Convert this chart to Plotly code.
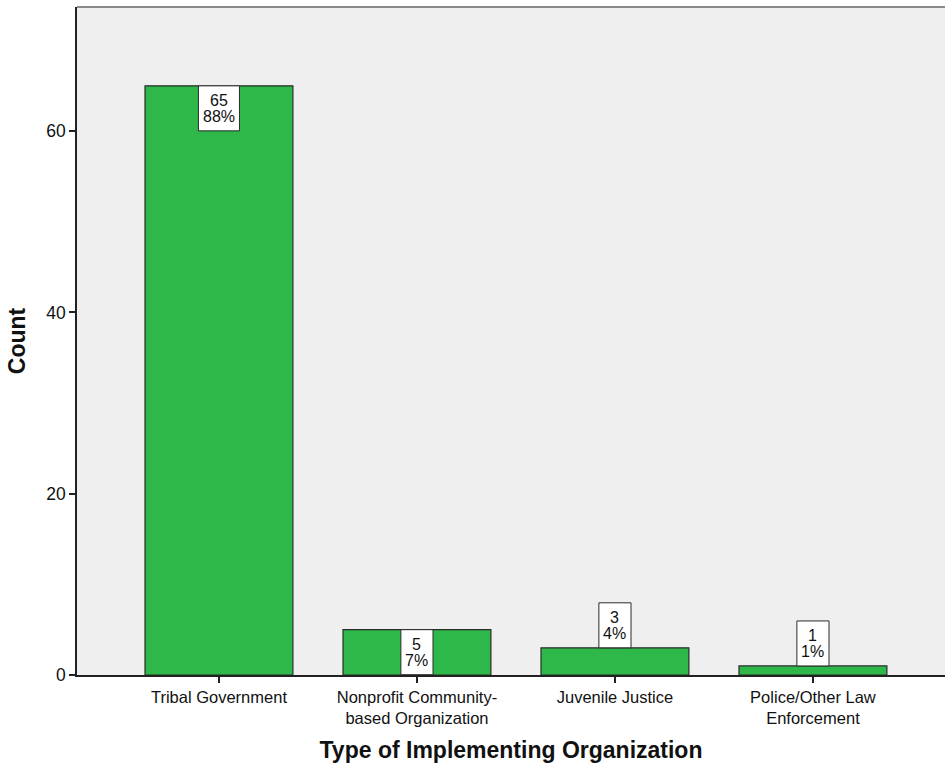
import plotly.graph_objects as go

categories = [
    "Tribal Government",
    "Nonprofit Community-<br>based Organization",
    "Juvenile Justice",
    "Police/Other Law<br>Enforcement",
]
counts = [65, 5, 3, 1]

total = sum(counts)
percents = [round(100 * c / total) for c in counts]

y_max = 73.7
plot_height_px = 668
box_h = 45           # label box height in px
label_units = box_h * y_max / plot_height_px
label_font = 16

fig = go.Figure()
fig.add_trace(go.Bar(
    x=list(range(len(categories))),
    y=counts,
    width=0.747,
    marker=dict(color="#2EB84A", line=dict(color="#2b2b2b", width=1.2)),
    hoverinfo="skip",
))


def text_width(s, size):
    # approximate Arial advance widths
    w = 0.0
    for ch in s:
        w += 0.889 if ch == "%" else 0.556
    return w * size


# count / percent boxes: inside the bar top when it fits, otherwise sitting on it
for i, (c, p) in enumerate(zip(counts, percents)):
    inside = c >= label_units
    center = -box_h / 2 if inside else box_h / 2
    l1, l2 = str(c), f"{p}%"
    box_w = max(text_width(l1, label_font), text_width(l2, label_font)) + 9
    fig.add_shape(
        type="rect", xref="x", yref="y",
        xsizemode="pixel", ysizemode="pixel",
        xanchor=i, yanchor=c,
        x0=-box_w / 2, x1=box_w / 2,
        y0=center - box_h / 2, y1=center + box_h / 2,
        fillcolor="white", line=dict(color="#2b2b2b", width=1),
        layer="above",
    )
    for txt, dy in ((l1, 8), (l2, -8.5)):
        fig.add_annotation(
            x=i, y=c, xref="x", yref="y",
            text=txt, showarrow=False,
            xanchor="center", yanchor="middle",
            yshift=center + dy,
            font=dict(family="Liberation Sans, Arial", size=label_font, color="#111111"),
        )

fig.add_shape(type="line", xref="paper", yref="paper", x0=0, x1=1, y0=1, y1=1,
              line=dict(color="#8a8a8a", width=2))

fig.update_layout(
    width=945, height=764,
    margin=dict(l=77, r=0, t=7, b=89),
    paper_bgcolor="white",
    plot_bgcolor="#EFEFEF",
    showlegend=False,
    font=dict(family="Liberation Sans, Arial", size=16, color="#111111"),
    xaxis=dict(
        range=[-0.717, 3.667],
        tickmode="array",
        tickvals=list(range(len(categories))),
        ticktext=categories,
        ticks="outside", ticklen=6, tickcolor="#222222", tickwidth=1.5,
        showgrid=False, zeroline=False,
        showline=True, linecolor="#222222", linewidth=1.5,
        tickfont=dict(size=16.5),
        title=dict(text="<b>Type of Implementing Organization</b>",
                   font=dict(size=23), standoff=16),
    ),
    yaxis=dict(
        range=[0, y_max],
        tickvals=[0, 20, 40, 60],
        ticks="outside", ticklen=6, tickcolor="#222222", tickwidth=1.5,
        showgrid=False, zeroline=False,
        showline=True, linecolor="#222222", linewidth=1.5,
        tickfont=dict(size=17.5),
        title=dict(text="<b>Count</b>", font=dict(size=23), standoff=14),
    ),
)

fig.write_html("out.html")
